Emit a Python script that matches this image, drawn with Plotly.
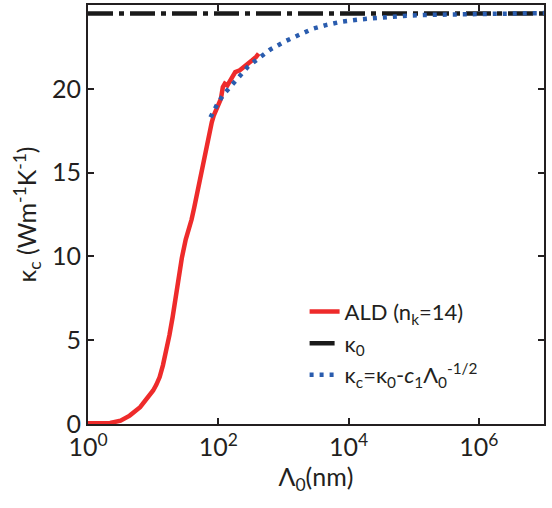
import plotly.graph_objects as go

# ALD cumulative conductivity, x in nm
ald_log_x = [0.0, 0.2, 0.34, 0.5, 0.64, 0.8, 0.95, 1.0, 1.05, 1.1, 1.15, 1.2, 1.25, 1.3, 1.37, 1.44, 1.5, 1.55, 1.59,
             1.63, 1.66, 1.7, 1.74, 1.78, 1.82, 1.86, 1.9, 1.93, 1.97, 2.0, 2.04, 2.07, 2.1, 2.14,
             2.2, 2.26, 2.33, 2.4, 2.46, 2.52, 2.58, 2.62]
ald_y = [0.05, 0.05, 0.06, 0.2, 0.5, 1.0, 1.7, 2.0, 2.35, 2.8, 3.5, 4.3, 5.3, 6.4, 8.3, 9.9, 11.0, 11.6, 12.2,
         12.9, 13.5, 14.3, 15.1, 15.8, 16.4, 17.4, 18.0, 18.4, 18.8, 19.1, 19.4, 20.1, 20.3, 20.2,
         20.6, 21.0, 21.1, 21.3, 21.5, 21.7, 21.9, 22.1]
ald_x = [10 ** v for v in ald_log_x]

# kappa_0 (bulk value)
k0_x = [1, 1e7]
k0_y = [24.5, 24.5]

# fit curve kappa_c = kappa_0 - c1*Lambda^-1/2
fit_log_x = [1.88, 1.95, 2.0, 2.09, 2.2, 2.29, 2.45, 2.63, 2.8, 3.04, 3.25, 3.44, 3.65, 3.89,
             4.2, 4.5, 4.84, 5.2, 5.63, 6.0, 6.4, 7.0]
fit_y = [18.3, 18.9, 19.2, 19.7, 20.2, 20.6, 21.3, 21.85, 22.35, 22.86, 23.25, 23.57, 23.8, 24.0,
         24.15, 24.27, 24.35, 24.41, 24.45, 24.48, 24.5, 24.52]
fit_x = [10 ** v for v in fit_log_x]

xtick_vals = [1, 1e2, 1e4, 1e6]
xtick_text = ["10<sup>0</sup>", "10<sup>2</sup>", "10<sup>4</sup>", "10<sup>6</sup>"]
ytick_vals = [0, 5, 10, 15, 20]

FONT = "Lato"

fig = go.Figure()
fig.add_trace(go.Scatter(x=ald_x, y=ald_y, mode="lines", name="ALD (n<sub>k</sub>=14)",
                         line=dict(color="#EE2B2B", width=4.5)))
fig.add_trace(go.Scatter(x=k0_x, y=k0_y, mode="lines", name="κ<sub>0</sub>",
                         line=dict(color="#1a1a1a", width=4.5, dash="25px,6px,5px,6px")))
fig.add_trace(go.Scatter(x=fit_x, y=fit_y, mode="lines",
                         name="κ<sub>c</sub>=κ<sub>0</sub>-<i>c</i><sub>1</sub>Λ<sub>0</sub><sup>-1/2</sup>",
                         line=dict(color="#2A5CAE", width=4.5, dash="4px,6px")))

fig.update_layout(
    width=552, height=508,
    margin=dict(l=88, r=8, t=5, b=84),
    paper_bgcolor="white", plot_bgcolor="white",
    font=dict(family=FONT, size=25, color="#231F20"),
    showlegend=True,
    legend=dict(x=0.475, y=0.318, xanchor="left", yanchor="top",
                bgcolor="rgba(0,0,0,0)", font=dict(size=22), tracegroupgap=0),
    xaxis=dict(type="log", range=[0, 7], tickvals=xtick_vals, ticktext=xtick_text,
               ticks="inside", ticklen=6, tickwidth=1.5, tickcolor="#231F20",
               showline=True, linecolor="#231F20", linewidth=2, mirror="ticks",
               showgrid=False, zeroline=False, automargin=False,
               title=dict(text="Λ<sub>0</sub>(nm)", standoff=4, font=dict(size=25))),
    yaxis=dict(range=[0, 25], tickvals=ytick_vals,
               ticks="inside", ticklen=6, tickwidth=1.5, tickcolor="#231F20",
               showline=True, linecolor="#231F20", linewidth=2, mirror="ticks",
               showgrid=False, zeroline=False, automargin=False,
               title=dict(text="κ<sub>c</sub> (Wm<sup>-1</sup>K<sup>-1</sup>)", standoff=8, font=dict(size=25))),
)

fig.write_html("out.html", config={"displayModeBar": False},
               post_script="document.body.style.margin='0';")
